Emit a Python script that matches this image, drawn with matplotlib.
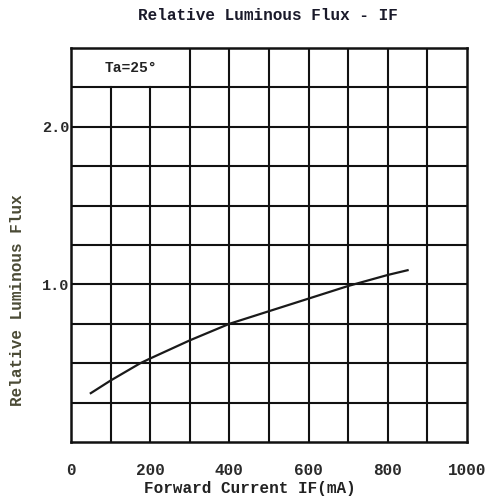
import numpy as np
import matplotlib
matplotlib.use("Agg")
import matplotlib.pyplot as plt

# data
current_ma = [50, 100, 175, 200, 300, 400, 500, 600, 700, 800, 850]
rel_flux = [0.31, 0.39, 0.50, 0.53, 0.645, 0.75, 0.83, 0.91, 0.99, 1.06, 1.09]

x_ticks = [0, 200, 400, 600, 800, 1000]
x_tick_labels = ["0", "200", "400", "600", "800", "1000"]
y_ticks = [1.0, 2.0]
y_tick_labels = ["1.0", "2.0"]

plt.rcParams['font.family'] = ['Liberation Mono', 'DejaVu Sans Mono']
plt.rcParams['font.weight'] = 'bold'

fig = plt.figure(figsize=(4.9, 5.0), dpi=100)
ax = fig.add_axes([71 / 490, 1 - 442 / 500, 396 / 490, 394 / 500])

ax.set_xlim(0, 1000)
ax.set_ylim(0, 2.5)

# grid, top row left part is the Ta box
grid_c = '#111111'
for gx in range(100, 1000, 100):
    top = 2.25 / 2.5 if gx in (100, 200) else 1.0
    ax.axvline(gx, ymin=0, ymax=top, color=grid_c, lw=1.5, zorder=1)
for gy in np.arange(0.25, 2.5, 0.25):
    ax.axhline(gy, color=grid_c, lw=1.5, zorder=1)
for s in ax.spines.values():
    s.set_linewidth(1.8)
    s.set_color(grid_c)

ax.plot(current_ma, rel_flux, color='#1a1a1a', lw=1.6, zorder=3)

ax.text(150, 2.375, "Ta=25°", ha='center', va='center', fontsize=10.5,
        color='#222222')

ax.set_xticks(x_ticks)
ax.set_xticklabels(x_tick_labels, fontsize=11.5, color='#2a2a2a')
ax.set_yticks(y_ticks)
ax.set_yticklabels(y_tick_labels, fontsize=11, color='#2a2a2a')
ax.tick_params(axis='both', length=0)
ax.tick_params(axis='x', pad=15)
ax.tick_params(axis='y', pad=1)

ax.set_xlabel("Forward Current IF(mA)", fontsize=11.5, fontweight='bold',
              color='#222222')
ax.xaxis.set_label_coords(0.452, -0.098)
ax.set_ylabel("Relative Luminous Flux", fontsize=11.5, fontweight='bold',
              color='#4a4a35')
ax.yaxis.set_label_coords(-0.116, 0.36)
fig.text(268 / 490, 1 - 15 / 500, "Relative Luminous Flux - IF", ha='center',
         va='center', fontsize=11.5, color='#1a1a2a')

fig.savefig("out.png", dpi=100)
